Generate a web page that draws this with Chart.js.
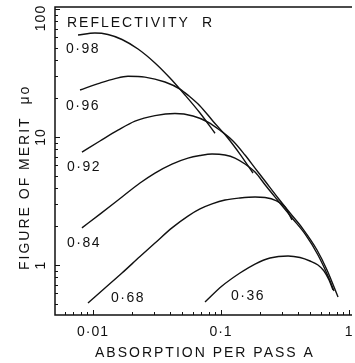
<!DOCTYPE html>
<html><head><meta charset="utf-8">
<script src="https://cdn.jsdelivr.net/npm/chart.js@4.4.0/dist/chart.umd.min.js"></script>
<style>html,body{margin:0;padding:0;background:#fff;}#wrap{width:355px;height:363px;position:relative;}</style>
</head><body><div id="wrap"><canvas id="c"></canvas></div>
<script>
// ---- data ----
const reflectivityLabels = ['0·98', '0·96', '0·92', '0·84', '0·68', '0·36'];

const absorption098 = [0.00764, 0.01036, 0.01309, 0.01685, 0.02248, 0.0305, 0.03996, 0.05233, 0.06855, 0.08978];
const merit098      = [62.6, 64.9, 63.2, 57.8, 48.7, 37.9, 28.9, 21.3, 15.4, 10.7];

const absorption096 = [0.00792, 0.01134, 0.01486, 0.01877, 0.02547, 0.03652, 0.04782, 0.05623, 0.06855, 0.0866, 0.1114, 0.1406, 0.1778];
const merit096      = [23.3, 26.4, 28.6, 29.8, 29.4, 26.9, 23.7, 20.9, 17.5, 13.3, 10.0, 7.36, 5.23];

const absorption092 = [0.0082, 0.01134, 0.01567, 0.0213, 0.0305, 0.04371, 0.06042, 0.0791, 0.0982, 0.1241, 0.154, 0.1844, 0.2207, 0.2789, 0.346, 0.4373, 0.5623, 0.673, 0.8204];
const merit092      = [7.63, 9.31, 11.3, 13.3, 14.7, 15.26, 14.6, 13.1, 11.3, 9.31, 7.23, 5.72, 4.53, 3.34, 2.55, 1.91, 1.31, 0.914, 0.562];

const absorption084 = [0.0082, 0.01134, 0.01685, 0.02329, 0.0305, 0.0414, 0.0552, 0.06855, 0.0851, 0.1075, 0.1286, 0.154, 0.1844, 0.2248, 0.2838, 0.3589, 0.453, 0.572, 0.685, 0.764];
const merit084      = [1.95, 2.50, 3.40, 4.37, 5.23, 6.15, 6.85, 7.17, 7.36, 7.23, 6.85, 6.15, 5.33, 4.14, 3.11, 2.33, 1.75, 1.197, 0.82, 0.626];

const absorption068 = [0.00914, 0.01241, 0.01685, 0.02329, 0.0305, 0.0414, 0.0552, 0.06855, 0.0851, 0.1075, 0.1406, 0.1844, 0.2207, 0.269, 0.316, 0.3589];
const merit068      = [0.505, 0.661, 0.866, 1.165, 1.485, 1.95, 2.41, 2.74, 3.0, 3.22, 3.34, 3.40, 3.37, 3.19, 2.84, 2.25];

const absorption036 = [0.075, 0.1018, 0.1406, 0.1844, 0.2414, 0.334, 0.4142, 0.4958, 0.572, 0.638, 0.698, 0.7499];
const merit036      = [0.514, 0.685, 0.866, 1.018, 1.134, 1.176, 1.144, 1.075, 1.0, 0.898, 0.764, 0.638];

const xTickValues = [0.01, 0.1, 1];
const xTickLabels = ['0·01', '0·1', '1'];
const yTickValues = [1, 10, 100];
const yTickLabels = ['1', '10', '100'];

const xTitle = 'ABSORPTION PER PASS A';
const yTitle = 'FIGURE OF MERIT  μo';
const legendTitle = 'REFLECTIVITY';
const legendSymbol = 'R';

// ---- build datasets ----
const series = [
  [absorption098, merit098],
  [absorption096, merit096],
  [absorption092, merit092],
  [absorption084, merit084],
  [absorption068, merit068],
  [absorption036, merit036]
];
const datasets = series.map((s, i) => ({
  label: reflectivityLabels[i],
  data: s[0].map((a, k) => ({x: a, y: s[1][k]})),
  borderColor: '#111',
  borderWidth: 1.4,
  pointRadius: 0,
  fill: false,
  cubicInterpolationMode: 'monotone'
}));

const FONT = '14px "Liberation Sans", Arial, sans-serif';

const decor = {
  id: 'decor',
  afterDraw(chart) {
    const ctx = chart.ctx;
    const xs = chart.scales.x, ys = chart.scales.y;
    const a = chart.chartArea;
    ctx.save();
    ctx.strokeStyle = '#111';
    ctx.fillStyle = '#111';
    // axes frame: left, bottom, top
    ctx.lineWidth = 1.5;
    ctx.beginPath();
    ctx.moveTo(a.right, a.top); ctx.lineTo(a.left, a.top);
    ctx.lineTo(a.left, a.bottom); ctx.lineTo(a.right, a.bottom);
    ctx.stroke();
    // ticks (inward)
    ctx.lineWidth = 1;
    for (let d = -3; d <= 0; d++) {
      for (let m = 1; m <= 9; m++) {
        const v = m * Math.pow(10, d);
        if (v < xs.min || v > xs.max) continue;
        const px = Math.round(xs.getPixelForValue(v)) + 0.5;
        const len = m === 1 ? 5 : 3;
        ctx.beginPath(); ctx.moveTo(px, a.bottom); ctx.lineTo(px, a.bottom - len); ctx.stroke();
      }
    }
    for (let d = -1; d <= 2; d++) {
      for (let m = 1; m <= 9; m++) {
        const v = m * Math.pow(10, d);
        if (v < ys.min || v > ys.max) continue;
        const py = Math.round(ys.getPixelForValue(v)) + 0.5;
        const len = m === 1 ? 5 : 3;
        ctx.beginPath(); ctx.moveTo(a.left, py); ctx.lineTo(a.left + len, py); ctx.stroke();
      }
    }
    ctx.font = FONT;
    try { ctx.letterSpacing = '1px'; } catch (e) {}
    // x tick labels
    ctx.textAlign = 'center';
    ctx.textBaseline = 'alphabetic';
    xTickValues.forEach((v, i) => {
      const px = xs.getPixelForValue(v);
      ctx.fillText(xTickLabels[i], px, a.bottom + 21);
    });
    // y tick labels (rotated)
    yTickValues.forEach((v, i) => {
      let py = ys.getPixelForValue(v);
      if (py < a.top + 11) py = a.top + 11;
      ctx.save();
      ctx.translate(a.left - 10, py);
      ctx.rotate(-Math.PI / 2);
      ctx.fillText(yTickLabels[i], 0, 0);
      ctx.restore();
    });
    // axis titles
    try { ctx.letterSpacing = '2px'; } catch (e) {}
    ctx.textAlign = 'left';
    ctx.fillText(xTitle, 95, 357);
    ctx.save();
    ctx.translate(29, 270);
    ctx.rotate(-Math.PI / 2);
    ctx.fillText(yTitle, 0, 0);
    ctx.restore();
    // legend title
    ctx.fillText(legendTitle, 67, 27);
    ctx.fillText(legendSymbol, 202, 27);
    // curve labels
    try { ctx.letterSpacing = '1.5px'; } catch (e) {}
    const labelPos = [[66, 53], [66, 110], [67, 171], [67, 247], [111, 302], [231, 300]];
    reflectivityLabels.forEach((t, i) => ctx.fillText(t, labelPos[i][0], labelPos[i][1]));
    ctx.restore();
  }
};

new Chart(document.getElementById('c'), {
  type: 'line',
  data: { datasets },
  options: {
    responsive: true,
    maintainAspectRatio: false,
    animation: false,
    layout: { padding: { left: 55, right: 3, top: 7, bottom: 48 } },
    plugins: { legend: { display: false }, tooltip: { enabled: false } },
    scales: {
      x: { type: 'logarithmic', min: 0.00505, max: 1.055, display: false },
      y: { type: 'logarithmic', min: 0.407, max: 103.7, display: false }
    }
  },
  plugins: [decor]
});
</script>
</body></html>
